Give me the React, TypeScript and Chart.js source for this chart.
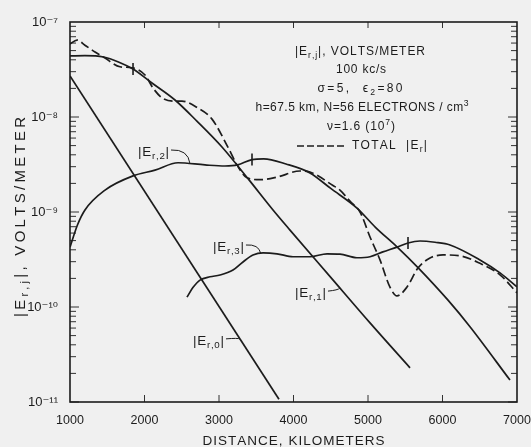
import React, { useEffect, useRef } from 'react';
import { Chart, registerables } from 'chart.js';
Chart.register(...registerables);

// ---------- data ----------
const xTickValues = [1000, 2000, 3000, 4000, 5000, 6000, 7000];
const yDecades = [-11, -10, -9, -8, -7];

const e0Dist = [1000, 3805];
const e0Val = [2.7e-8, 1.07e-11];

const e1Dist = [1000, 1200, 1450, 1650, 1846, 2100, 2409, 2700, 3040, 3400, 3725, 3953, 4500, 5027, 5564];
const e1Val = [4.39e-8, 4.42e-8, 4.28e-8, 3.8e-8, 3.2e-8, 2.28e-8, 1.51e-8, 9.1e-9, 4.83e-9, 2.19e-9, 1.05e-9, 6.45e-10, 2.05e-10, 6.8e-11, 2.29e-11];

const e2Dist = [1000, 1100, 1201, 1470, 1846, 2141, 2450, 2812, 3080, 3250, 3443, 3600, 3900, 4221, 4500, 4852, 5100, 5389, 5671, 6074, 6369, 6906];
const e2Val = [4.27e-10, 7.3e-10, 1.05e-9, 1.7e-9, 2.4e-9, 2.76e-9, 3.3e-9, 3.13e-9, 3.05e-9, 3.13e-9, 3.56e-9, 3.62e-9, 3.2e-9, 2.58e-9, 1.77e-9, 1.1e-9, 6.9e-10, 4.3e-10, 2.6e-10, 1.18e-10, 6.2e-11, 1.7e-11];

const e3Dist = [2570, 2650, 2745, 2880, 3013, 3188, 3322, 3456, 3591, 3778, 3993, 4221, 4450, 4624, 4852, 5027, 5200, 5389, 5537, 5698, 5900, 6101, 6503, 6772, 7000];
const e3Val = [1.27e-10, 1.6e-10, 1.92e-10, 2.08e-10, 2.17e-10, 2.45e-10, 2.98e-10, 3.52e-10, 3.71e-10, 3.63e-10, 3.38e-10, 3.38e-10, 3.63e-10, 3.6e-10, 3.3e-10, 3.38e-10, 3.8e-10, 4.27e-10, 4.72e-10, 4.95e-10, 4.8e-10, 4.5e-10, 3.13e-10, 2.29e-10, 1.63e-10];

const totDist = [1000, 1094, 1200, 1336, 1470, 1671, 1832, 2007, 2114, 2235, 2383, 2503, 2718, 2906, 3121, 3242, 3376, 3550, 3778, 4087, 4221, 4530, 4624, 4758, 4893, 5027, 5161, 5295, 5389, 5523, 5671, 5832, 6007, 6235, 6503, 6772, 7000];
const totVal = [5.87e-8, 6.46e-8, 5.7e-8, 4.83e-8, 4.17e-8, 3.38e-8, 3.3e-8, 2.77e-8, 2.02e-8, 1.59e-8, 1.47e-8, 1.47e-8, 1.24e-8, 9.5e-9, 4.8e-9, 3.13e-9, 2.29e-9, 2.19e-9, 2.33e-9, 2.7e-9, 2.63e-9, 1.9e-9, 1.7e-9, 1.3e-9, 1.0e-9, 5.46e-10, 3.13e-10, 1.62e-10, 1.31e-10, 1.62e-10, 2.57e-10, 3.28e-10, 3.53e-10, 3.46e-10, 2.88e-10, 2.18e-10, 1.41e-10];

// short tick marks drawn across the curves
const markDist = [1846, 3443, 5537];
const markVal = [3.2e-8, 3.56e-9, 4.72e-10];

// ---------- styling ----------
const INK = '#1c1c1c';
const BG = '#f0f0f0';
const FONT = "'Liberation Sans', 'DejaVu Sans', sans-serif";

type Seg = { t: string; s?: 'sub' | 'sup' };

function segFont(seg: Seg, size: number, family: string) {
  const fs = seg.s ? size * 0.72 : size;
  return `${fs}px ${family}`;
}

function richWidth(ctx: CanvasRenderingContext2D, segs: Seg[], size: number, family: string, spacing: number) {
  let w = 0;
  for (const seg of segs) {
    ctx.font = segFont(seg, size, family);
    for (const ch of seg.t) w += ctx.measureText(ch).width + spacing;
  }
  return w - spacing;
}

function drawRich(
  ctx: CanvasRenderingContext2D,
  segs: Seg[],
  x: number,
  y: number,
  size: number,
  family: string,
  align: 'left' | 'center' | 'right',
  target?: number
) {
  let n = 0;
  for (const seg of segs) n += [...seg.t].length;
  let spacing = 0;
  if (target) {
    while (size > 7 && richWidth(ctx, segs, size, family, -0.3) > target) size -= 0.25;
    const nat = richWidth(ctx, segs, size, family, 0);
    spacing = (target - nat) / Math.max(1, n - 1);
  }
  const total = richWidth(ctx, segs, size, family, spacing);
  let cx = align === 'left' ? x : align === 'center' ? x - total / 2 : x - total;
  ctx.textBaseline = 'middle';
  ctx.textAlign = 'left';
  for (const seg of segs) {
    ctx.font = segFont(seg, size, family);
    const dy = seg.s === 'sub' ? size * 0.3 : seg.s === 'sup' ? -size * 0.38 : 0;
    for (const ch of seg.t) {
      ctx.fillText(ch, cx, y + dy);
      cx += ctx.measureText(ch).width + spacing;
    }
  }
  return total;
}

function interpLog(xs: number[], ys: number[], x: number) {
  for (let i = 0; i < xs.length - 1; i++) {
    if (x >= xs[i] && x <= xs[i + 1]) {
      const t = (x - xs[i]) / (xs[i + 1] - xs[i]);
      return Math.pow(10, Math.log10(ys[i]) + t * (Math.log10(ys[i + 1]) - Math.log10(ys[i])));
    }
  }
  return ys[ys.length - 1];
}

// curve labels: text anchor (data coords), and leader end on the curve
const curveLabels = [
  { sub: 'r,2', x: 1913, y: 4.28e-9, tx: 2611, xs: e2Dist, ys: e2Val },
  { sub: 'r,3', x: 2919, y: 4.28e-10, tx: 3560, xs: e3Dist, ys: e3Val },
  { sub: 'r,1', x: 4020, y: 1.4e-10, tx: 4624, xs: e1Dist, ys: e1Val },
  { sub: 'r,0', x: 2651, y: 4.4e-11, tx: 3282, xs: e0Dist, ys: e0Val },
];

const SUP: Record<string, string> = { '0': '⁰', '1': '¹', '2': '²', '3': '³', '4': '⁴', '5': '⁵', '6': '⁶', '7': '⁷', '8': '⁸', '9': '⁹', '-': '⁻' };
const supText = (n: number) => String(n).split('').map((c) => SUP[c] || c).join('');

const paperPlugin = {
  id: 'paper',
  beforeDraw(chart: any) {
    const { ctx, width, height } = chart;
    ctx.save();
    ctx.fillStyle = BG;
    ctx.fillRect(0, 0, width, height);
    ctx.restore();
  },
  afterDraw(chart: any) {
    const { ctx, chartArea: a, scales } = chart;
    const sx = scales.x;
    const sy = scales.y;
    ctx.save();
    ctx.strokeStyle = INK;
    ctx.fillStyle = INK;
    const seg = (x1: number, y1: number, x2: number, y2: number) => {
      ctx.beginPath();
      ctx.moveTo(x1, y1);
      ctx.lineTo(x2, y2);
      ctx.stroke();
    };
    // frame
    ctx.lineWidth = 1.6;
    ctx.strokeRect(a.left, a.top, a.right - a.left, a.bottom - a.top);
    // inner ticks on y
    ctx.lineWidth = 0.9;
    for (const d of yDecades.slice(0, -1)) {
      for (let m = 1; m <= 9; m++) {
        const py = sy.getPixelForValue(m * Math.pow(10, d));
        const len = m === 1 ? 9 : 6;
        seg(a.left, py, a.left + len, py);
        seg(a.right, py, a.right - len, py);
      }
    }
    // inner ticks on x
    for (const t of xTickValues.slice(1, -1)) {
      const px = sx.getPixelForValue(t);
      seg(px, a.bottom, px, a.bottom - 7);
      seg(px, a.top, px, a.top + 6);
    }

    // curve labels with leaders
    ctx.lineWidth = 1;
    for (const L of curveLabels) {
      const px = sx.getPixelForValue(L.x);
      const py = sy.getPixelForValue(L.y);
      const w = drawRich(ctx, [{ t: '|E' }, { t: L.sub, s: 'sub' }, { t: '|' }], px, py, 13.5, FONT, 'left', 31);
      const ex = sx.getPixelForValue(L.tx);
      const ey = sy.getPixelForValue(interpLog(L.xs, L.ys, L.tx));
      const x0 = px + w + 2;
      const y0 = py - 2;
      ctx.beginPath();
      ctx.moveTo(x0, y0);
      ctx.quadraticCurveTo(ex - 2, y0 - 1, ex, ey);
      ctx.stroke();
    }

    // text block (top right)
    const at = (x: number, y: number) => [sx.getPixelForValue(x), sy.getPixelForValue(y)];
    let p = at(4893, 4.83e-8);
    drawRich(ctx, [{ t: '|E' }, { t: 'r,j', s: 'sub' }, { t: '|, VOLTS/METER' }], p[0], p[1], 12, FONT, 'center', 130);
    p = at(4906, 3.12e-8);
    drawRich(ctx, [{ t: '100 kc/s' }], p[0], p[1], 12, FONT, 'center', 50);
    p = at(4893, 1.97e-8);
    drawRich(ctx, [{ t: 'σ=5,  ϵ' }, { t: '2', s: 'sub' }, { t: '=80' }], p[0], p[1], 12, FONT, 'center', 85);
    p = at(4920, 1.24e-8);
    drawRich(ctx, [{ t: 'h=67.5 km, N=56 ELECTRONS / cm' }, { t: '3', s: 'sup' }], p[0], p[1], 12, FONT, 'center', 213);
    p = at(4906, 7.85e-9);
    drawRich(ctx, [{ t: 'ν=1.6 (10' }, { t: '7', s: 'sup' }, { t: ')' }], p[0], p[1], 12, FONT, 'center', 68);
    // legend line
    const l1 = at(4047, 4.95e-9);
    const l2 = at(4718, 4.95e-9);
    ctx.lineWidth = 1.6;
    ctx.setLineDash([7, 3]);
    seg(l1[0], l1[1], l2[0], l2[1]);
    ctx.setLineDash([]);
    p = at(4785, 4.95e-9);
    drawRich(ctx, [{ t: 'TOTAL  |E' }, { t: 'r', s: 'sub' }, { t: '|' }], p[0], p[1], 12, FONT, 'left', 75);

    // axis titles
    ctx.save();
    ctx.translate(21, (a.top + a.bottom) / 2 + 5);
    ctx.rotate(-Math.PI / 2);
    drawRich(ctx, [{ t: '|E' }, { t: 'r,j', s: 'sub' }, { t: '|, VOLTS/METER' }], 0, 0, 15, FONT, 'center', 200);
    ctx.restore();
    drawRich(ctx, [{ t: 'DISTANCE, KILOMETERS' }], (a.left + a.right) / 2, 441, 13.5, FONT, 'center', 182);
    ctx.restore();
  },
};

export default function App() {
  const ref = useRef<HTMLCanvasElement | null>(null);
  useEffect(() => {
    document.body.style.margin = '0';
    document.body.style.background = BG;
    const mk = (label: string, xs: number[], ys: number[], extra: any = {}) => ({
      label,
      data: xs.map((x, i) => ({ x, y: ys[i] })),
      borderColor: INK,
      backgroundColor: INK,
      borderWidth: 1.7,
      pointRadius: 0,
      fill: false,
      cubicInterpolationMode: 'monotone',
      ...extra,
    });
    const chart = new Chart(ref.current as HTMLCanvasElement, {
      type: 'line',
      data: {
        datasets: [
          mk('|Er,0|', e0Dist, e0Val, { cubicInterpolationMode: 'default', tension: 0 }),
          mk('|Er,1|', e1Dist, e1Val),
          mk('|Er,2|', e2Dist, e2Val),
          mk('|Er,3|', e3Dist, e3Val),
          mk('TOTAL |Er|', totDist, totVal, { borderDash: [9, 4] }),
          {
            label: 'marks',
            data: markDist.map((x, i) => ({ x, y: markVal[i] })),
            showLine: false,
            pointStyle: 'line',
            pointRotation: 90,
            pointRadius: 6,
            pointBorderWidth: 1.6,
            borderColor: INK,
            backgroundColor: INK,
          },
        ],
      } as any,
      options: {
        responsive: false,
        animation: false,
        events: [],
        layout: { padding: { top: 22, right: 14, left: 0, bottom: 0 } },
        plugins: { legend: { display: false }, tooltip: { enabled: false } },
        scales: {
          x: {
            type: 'linear',
            min: 1000,
            max: 7000,
            grid: { display: false },
            border: { display: false },
            ticks: {
              stepSize: 1000,
              color: INK,
              padding: 3,
              maxRotation: 0,
              font: { family: FONT, size: 12.5 },
              callback: (v: any) => String(v),
            },
            afterFit: (s: any) => {
              s.height = 45;
              s.paddingLeft = 0;
              s.paddingRight = 0;
            },
          },
          y: {
            type: 'logarithmic',
            min: 1e-11,
            max: 1e-7,
            grid: { display: false },
            border: { display: false },
            ticks: {
              autoSkip: false,
              color: INK,
              padding: 4,
              font: { family: FONT, size: 13 },
              callback: (v: any) => {
                const e = Math.log10(Number(v));
                if (Math.abs(e - Math.round(e)) < 1e-6) return '10' + supText(Math.round(e));
                return '';
              },
            },
            afterFit: (s: any) => {
              s.width = 70;
              s.paddingTop = 0;
              s.paddingBottom = 0;
            },
          },
        },
      } as any,
      plugins: [paperPlugin],
    });
    return () => chart.destroy();
  }, []);
  return (
    <div style={{ width: 531, height: 447 }}>
      <canvas ref={ref} width={531} height={447} style={{ display: 'block', width: 531, height: 447 }} />
    </div>
  );
}
